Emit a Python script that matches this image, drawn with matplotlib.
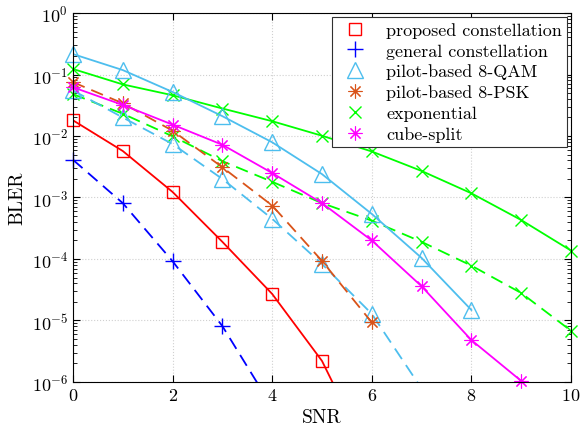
import numpy as np
import matplotlib
matplotlib.use("Agg")
from matplotlib import pyplot as plt
from matplotlib.lines import Line2D

snr = list(range(0, 11))

proposed = [1.8e-2, 5.7e-3, 1.23e-3, 1.9e-4, 2.7e-5, 2.2e-6, 5e-8]
general = [4.1e-3, 8.1e-4, 9.2e-5, 8.1e-6, 3.9e-7]
qam8 = [0.215, 0.118, 0.052, 0.021, 7.9e-3, 2.4e-3, 5.4e-4, 1.04e-4, 1.48e-5]
qam8_dash = [0.055, 0.020, 7.4e-3, 2.0e-3, 4.5e-4, 8.3e-5, 1.28e-5, 7.8e-7]
psk8 = [0.075, 0.034, 0.0122, 3.1e-3, 7.4e-4, 9.3e-5, 9.3e-6]
expo = [0.123, 0.069, 0.046, 0.028, 0.0174, 0.0101, 5.6e-3, 2.7e-3, 1.17e-3, 4.3e-4, 1.37e-4]
expo_dash = [0.048, 0.023, 9.9e-3, 3.9e-3, 1.8e-3, 8.1e-4, 4.2e-4, 1.9e-4, 7.8e-5, 2.8e-5, 6.8e-6]
cube = [0.062, 0.032, 0.0153, 7.2e-3, 2.5e-3, 8.1e-4, 2.0e-4, 3.6e-5, 4.8e-6, 1.04e-6]

labels = ['proposed constellation', 'general constellation', 'pilot-based 8-QAM',
          'pilot-based 8-PSK', 'exponential', 'cube-split']

plt.rcParams['font.family'] = 'cmr10'
plt.rcParams['mathtext.fontset'] = 'cm'
plt.rcParams['axes.formatter.use_mathtext'] = True

c_red = '#FF0000'
c_blue = '#0000FF'
c_lb = '#4DBEEE'
c_or = '#D95319'
c_gr = '#00FF00'
c_mg = '#FF00FF'

star = (8, 2, 0)   # matlab style asterisk

fig = plt.figure(figsize=(5.82, 4.31), dpi=100)
ax = fig.add_axes([0.1254, 0.1114, 0.8557, 0.8561])

dash = (0, (7, 4))
lw = 1.3


def draw(y, color, marker, ls, msize, mew=1.0):
    x = np.array(snr[:len(y)])
    y = np.array(y)
    ax.plot(x, y, color=color, ls=ls, lw=lw)
    # markers inside the plotted range drawn unclipped (like matlab)
    keep = y >= 1e-6 * 0.99
    ax.plot(x[keep], y[keep], color=color, ls='none', marker=marker, ms=msize,
            mfc='none', mew=mew, clip_on=False)


draw(expo, c_gr, 'x', '-', 8)
draw(expo_dash, c_gr, 'x', dash, 8)
draw(qam8, c_lb, '^', '-', 11)
draw(qam8_dash, c_lb, '^', dash, 11)
draw(psk8, c_or, star, dash, 10, 0.8)
draw(cube, c_mg, star, '-', 10, 0.8)
draw(general, c_blue, '+', dash, 11)
draw(proposed, c_red, 's', '-', 9)

ax.set_yscale('log')
ax.set_xlim(0, 10)
ax.set_ylim(1e-6, 1)
ax.set_xticks([0, 2, 4, 6, 8, 10])
ax.set_yticks([1e-6, 1e-5, 1e-4, 1e-3, 1e-2, 1e-1, 1])
ax.grid(True, which='major', ls=':', color='#d0d0d0', lw=0.8)
ax.tick_params(which='both', direction='in', top=True, right=True, labelsize=13)
ax.tick_params(which='major', length=5)
ax.tick_params(which='minor', length=3)
ax.tick_params(axis='x', which='minor', bottom=False, top=False)
ax.set_xlabel('SNR', fontsize=14)
ax.set_ylabel('BLER', fontsize=14)

handles = [
    Line2D([], [], color=c_red, marker='s', ls='none', ms=9, mfc='none'),
    Line2D([], [], color=c_blue, marker='+', ls='none', ms=11),
    Line2D([], [], color=c_lb, marker='^', ls='none', ms=11, mfc='none'),
    Line2D([], [], color=c_or, marker=star, ls='none', ms=10, mew=0.8),
    Line2D([], [], color=c_gr, marker='x', ls='none', ms=8),
    Line2D([], [], color=c_mg, marker=star, ls='none', ms=10, mew=0.8),
]
leg = ax.legend(handles, labels, loc='upper right', fontsize=13, fancybox=False,
                edgecolor='#303030', framealpha=1, borderaxespad=0.2,
                handletextpad=0.7, labelspacing=0.28, borderpad=0.3)
leg.get_frame().set_linewidth(0.8)

fig.savefig('out.png', dpi=100)
